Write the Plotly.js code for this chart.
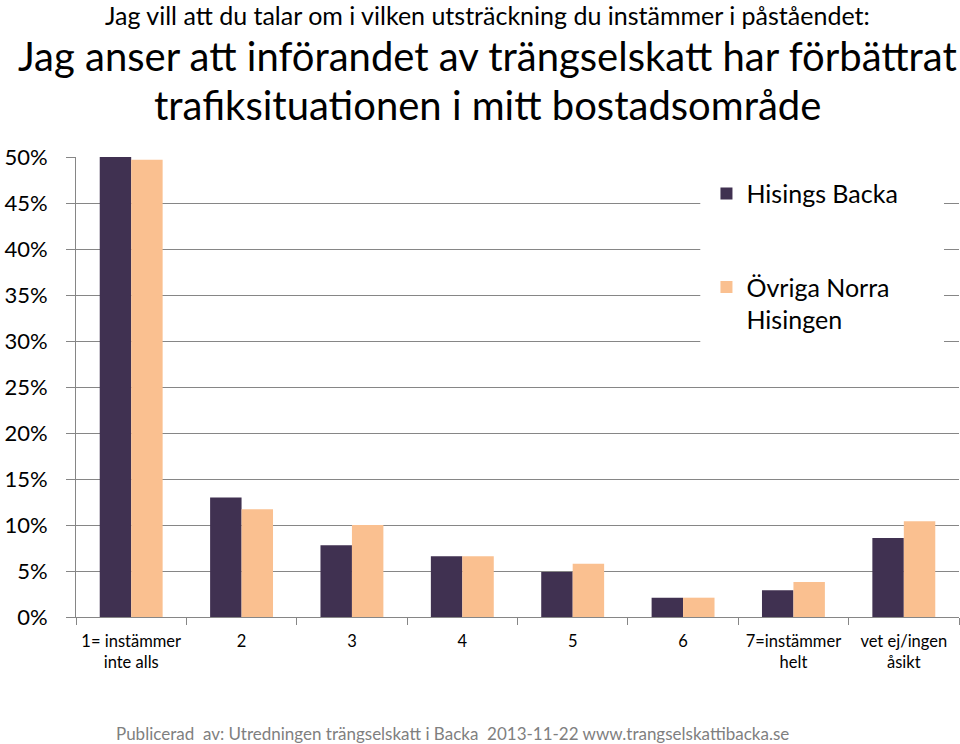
<!DOCTYPE html>
<html><head><meta charset="utf-8">
<script src="https://cdn.plot.ly/plotly-3.0.1.min.js"></script>
<style>body{margin:0;padding:0;background:#fff}#chart{width:960px;height:744px}</style>
</head><body><div id="chart"></div>
<script>
const categories = ["1= instämmer<br>inte alls", "2", "3", "4", "5", "6", "7=instämmer<br>helt", "vet ej/ingen<br>åsikt"];
const hisingsBacka = [0.500, 0.130, 0.078, 0.066, 0.049, 0.021, 0.029, 0.086];
const ovrigaNorraHisingen = [0.497, 0.117, 0.100, 0.066, 0.058, 0.021, 0.038, 0.104];
const seriesNames = ["Hisings Backa", "Övriga Norra<br>Hisingen"];
const titleLine1 = "Jag vill att du talar om i vilken utsträckning du instämmer i påståendet:";
const titleLine2 = "Jag anser att införandet av trängselskatt har förbättrat";
const titleLine3 = "trafiksituationen i mitt bostadsområde";
const footer = "Publicerad  av: Utredningen trängselskatt i Backa  2013-11-22 www.trangselskattibacka.se";

const FONT = "Lato, 'Open Sans', sans-serif";
const traces = [
  {type: "bar", x: categories, y: hisingsBacka, name: seriesNames[0], legendgroup: "a",
   marker: {color: "#403151"}},
  {type: "bar", x: categories, y: ovrigaNorraHisingen, name: seriesNames[1], legendgroup: "b",
   marker: {color: "#FAC090"}}
];
const layout = {
  width: 960, height: 744,
  margin: {l: 76, r: 1, t: 157, b: 127},
  paper_bgcolor: "#fff", plot_bgcolor: "#fff",
  font: {family: FONT, color: "#000"},
  barmode: "group", bargap: 0.43, bargroupgap: 0,
  showlegend: true,
  legend: {x: 0.714, y: 0.97, xanchor: "left", yanchor: "top", bgcolor: "rgba(255,255,255,0)",
    font: {size: 25, family: FONT, color: "#000"}, traceorder: "grouped", tracegroupgap: 58, valign: "top"},
  xaxis: {type: "category", showline: true, linecolor: "#868686", linewidth: 1,
    ticks: "outside", tickson: "boundaries", ticklen: 7, tickcolor: "#868686",
    tickfont: {size: 16.5, family: FONT, color: "#000"}, ticklabelstandoff: 9, showgrid: false, fixedrange: true},
  yaxis: {range: [0, 0.5], dtick: 0.05, tickformat: ".0%", showline: true, linecolor: "#868686",
    ticks: "outside", ticklen: 9, tickcolor: "#868686", showgrid: true, gridcolor: "#868686",
    gridwidth: 1, zeroline: false, tickfont: {size: 22, family: FONT, color: "#000"},
    ticklabelstandoff: 14, fixedrange: true},
  shapes: [{type: "rect", xref: "paper", yref: "paper", x0: 0.707, x1: 0.983, y0: 0.56, y1: 0.985,
    fillcolor: "#fff", line: {width: 0}, layer: "above"}],
  annotations: [
    {text: titleLine1, xref: "paper", yref: "paper", x: 0.466, y: (617-15)/460, xanchor: "center", yanchor: "middle",
     showarrow: false, borderpad: 0, font: {size: 25, family: FONT, color: "#000"}},
    {text: titleLine2, xref: "paper", yref: "paper", x: 0.466, y: (617-56)/460, xanchor: "center", yanchor: "middle",
     showarrow: false, font: {size: 40, family: FONT, color: "#000"}},
    {text: titleLine3, xref: "paper", yref: "paper", x: 0.466, y: (617-105)/460, xanchor: "center", yanchor: "middle",
     showarrow: false, font: {size: 40, family: FONT, color: "#000"}},
    {text: footer, xref: "paper", yref: "paper", x: 0.426, y: (617-733)/460, xanchor: "center", yanchor: "middle",
     showarrow: false, font: {size: 17, family: FONT, color: "#7f7f7f"}}
  ]
};
Plotly.newPlot("chart", traces, layout, {staticPlot: true, displayModeBar: false});
</script></body></html>
